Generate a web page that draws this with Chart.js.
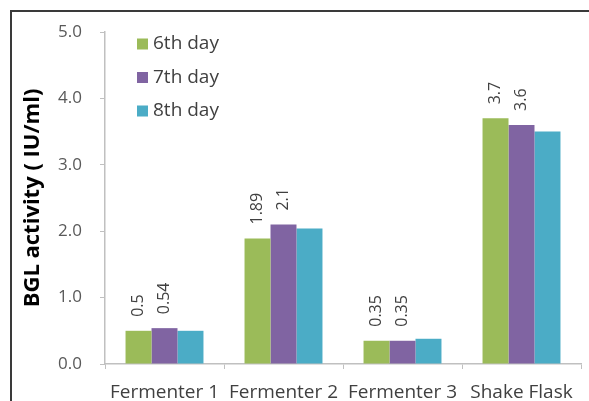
<!DOCTYPE html>
<html>
<head>
<meta charset="utf-8">
<script src="https://cdn.jsdelivr.net/npm/chart.js@4"></script>
<style>
  html, body { margin: 0; padding: 0; background: #fff; }
  #wrap { position: relative; width: 589px; height: 401px; overflow: hidden; }
  #frame { position: absolute; left: 10px; top: 10px; width: 700px; height: 500px;
           border-top: 2px solid #3a3a3a; border-left: 2px solid #3a3a3a; box-sizing: border-box; }
  canvas { position: absolute; left: 0; top: 0; }
</style>
</head>
<body>
<div id="wrap">
  <div id="frame"></div>
  <canvas id="c" width="589" height="401"></canvas>
</div>
<script>
// BGL activity per fermentation setup, sampled on days 6, 7 and 8
const categories = ['Fermenter 1', 'Fermenter 2', 'Fermenter 3', 'Shake Flask'];
const day6 = [0.5, 1.89, 0.35, 3.7];
const day7 = [0.54, 2.1, 0.35, 3.6];
const day8 = [0.5, 2.04, 0.38, 3.5];
const seriesNames = ['6th day', '7th day', '8th day'];
const yTicks = [0, 1, 2, 3, 4, 5];

const colors = ['#9bbb59', '#8064a2', '#4bacc6'];
const showValue = [true, true, false];
const FONT = '"Open Sans", Lato, sans-serif';
const TEXT = '#404040';

// Rotated value labels above the bars
const valueLabels = {
  id: 'valueLabels',
  afterDatasetsDraw(chart) {
    const ctx = chart.ctx;
    chart.data.datasets.forEach((ds, i) => {
      if (!showValue[i]) return;
      const meta = chart.getDatasetMeta(i);
      meta.data.forEach((bar, j) => {
        ctx.save();
        ctx.translate(bar.x, bar.y - 14);
        ctx.rotate(-Math.PI / 2);
        ctx.font = '16px ' + FONT;
        ctx.fillStyle = TEXT;
        ctx.textAlign = 'left';
        ctx.textBaseline = 'middle';
        ctx.fillText(String(ds.data[j]), 0, 0);
        ctx.restore();
      });
    });
  }
};

// Legend floating in the upper-left of the plot
const innerLegend = {
  id: 'innerLegend',
  afterDraw(chart) {
    const ctx = chart.ctx;
    const x0 = chart.chartArea.left + 32;
    const y0 = chart.chartArea.top + 12;
    chart.data.datasets.forEach((ds, i) => {
      const y = y0 + i * 33.5;
      ctx.save();
      ctx.fillStyle = ds.backgroundColor;
      ctx.fillRect(x0, y - 5.5, 11, 11);
      ctx.font = '19px ' + FONT;
      ctx.fillStyle = TEXT;
      ctx.textBaseline = 'middle';
      ctx.textAlign = 'left';
      ctx.fillText(ds.label, x0 + 16, y);
      ctx.restore();
    });
  }
};

new Chart(document.getElementById('c'), {
  type: 'bar',
  data: {
    labels: categories,
    datasets: [day6, day7, day8].map((d, i) => ({
      label: seriesNames[i],
      data: d,
      backgroundColor: colors[i],
      borderWidth: 0,
      categoryPercentage: 0.655,
      barPercentage: 1.0
    }))
  },
  options: {
    responsive: false,
    animation: false,
    layout: { padding: { left: 0, right: 8, top: 32, bottom: 0 } },
    plugins: { legend: { display: false }, tooltip: { enabled: false } },
    scales: {
      x: {
        grid: { display: true, drawOnChartArea: false, drawTicks: true, tickLength: 5, color: '#c0c0c0', offset: true },
        border: { display: true, color: '#c0c0c0', width: 1.5 },
        ticks: { font: { family: FONT, size: 19 }, color: TEXT, padding: 12, maxRotation: 0, autoSkip: false },
        afterFit(scale) { scale.height = 37; }
      },
      y: {
        min: 0, max: 5,
        afterBuildTicks(scale) { scale.ticks = yTicks.map(v => ({ value: v })); },
        grid: { display: true, drawOnChartArea: false, drawTicks: true, tickLength: 5, color: '#c0c0c0' },
        border: { display: true, color: '#c0c0c0', width: 1.5 },
        ticks: { font: { family: FONT, size: 17 }, color: '#595959', padding: 18,
                 callback: v => Number(v).toFixed(1) },
        title: { display: true, text: 'BGL activity ( IU/ml)', color: '#000',
                 font: { family: FONT, size: 22, weight: 'bold' }, padding: { top: 20, bottom: 0 } },
        afterFit(scale) { scale.width = 105; }
      }
    }
  },
  plugins: [valueLabels, innerLegend]
});
</script>
</body>
</html>
